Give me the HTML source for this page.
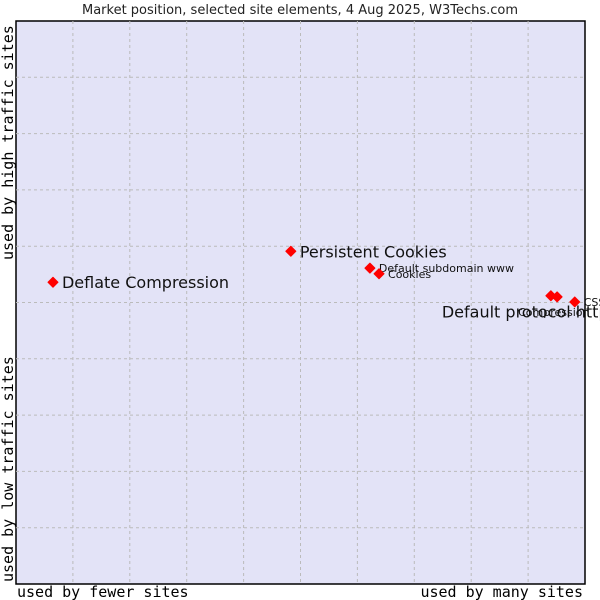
<!DOCTYPE html>
<html><head><meta charset="utf-8"><style>
body{margin:0;background:#fff;width:600px;height:600px;overflow:hidden}
svg{display:block;font-family:"DejaVu Sans","Liberation Sans",sans-serif}
</style></head><body>
<svg width="600" height="600">
<text x="300" y="14" text-anchor="middle" font-size="13" fill="#222">Market position, selected site elements, 4 Aug 2025, W3Techs.com</text>
<rect x="16" y="21" width="569" height="563" fill="#e3e3f7" stroke="#000" stroke-width="1.5"/>
<g id="grid"></g>
<g id="points"></g>
<text x="17" y="597" font-family="DejaVu Sans Mono,Liberation Mono,monospace" font-size="15">used by fewer sites</text>
<text x="583" y="597" text-anchor="end" font-family="DejaVu Sans Mono,Liberation Mono,monospace" font-size="15">used by many sites</text>
<text transform="translate(13,260) rotate(-90)" font-family="DejaVu Sans Mono,Liberation Mono,monospace" font-size="15">used by high traffic sites</text>
<text transform="translate(13,582) rotate(-90)" font-family="DejaVu Sans Mono,Liberation Mono,monospace" font-size="15">used by low traffic sites</text>
</svg>
<script>
const names=["Deflate Compression","Persistent Cookies","Default subdomain www","Cookies","Default protocol https","Compression","CSS"];
const xVals=[6.5,48.3,62.2,63.8,94.0,95.1,98.2];
const yVals=[53.6,59.1,56.1,55.1,51.2,51.0,50.1];
const big=[true,true,false,false,true,false,false];
const X0=16,W=569,Y0=584,H=563;
const sx=v=>X0+v/100*W, sy=v=>Y0-v/100*H;
const NS="http://www.w3.org/2000/svg";
const g=document.getElementById('grid');
for(let i=1;i<10;i++){
 const l=document.createElementNS(NS,'line');
 l.setAttribute('x1',sx(i*10));l.setAttribute('x2',sx(i*10));l.setAttribute('y1',21);l.setAttribute('y2',584);
 l.setAttribute('stroke','#bbb');l.setAttribute('stroke-dasharray','3,3');
 
 
 g.appendChild(l);
 const m=document.createElementNS(NS,'line');
 m.setAttribute('y1',sy(i*10));m.setAttribute('y2',sy(i*10));m.setAttribute('x1',16);m.setAttribute('x2',585);
 m.setAttribute('stroke','#bbb');m.setAttribute('stroke-dasharray','3,3');
 
 
 g.appendChild(m);
}
const p=document.getElementById('points');
const offs={4:[-109,22],5:[-39,19]};
names.forEach((n,i)=>{
 const x=sx(xVals[i]),y=sy(yVals[i]);
 const d=document.createElementNS(NS,'path');
 d.setAttribute('d',`M${x-5},${y}L${x},${y-5}L${x+5},${y}L${x},${y+5}Z`);
 d.setAttribute('fill','#f00');
 d.setAttribute('stroke','#f00');
 d.setAttribute('stroke-linejoin','round');
 
 
 p.appendChild(d);
 const t=document.createElementNS(NS,'text');
 const o=offs[i]||[9,big[i]?6:4];
 t.setAttribute('x',x+o[0]);t.setAttribute('y',y+o[1]);
 t.setAttribute('font-size',big[i]?16:11);t.setAttribute('fill','#111');
 t.textContent=n;
 
 
 p.appendChild(t);
});
</script>
</body></html>
